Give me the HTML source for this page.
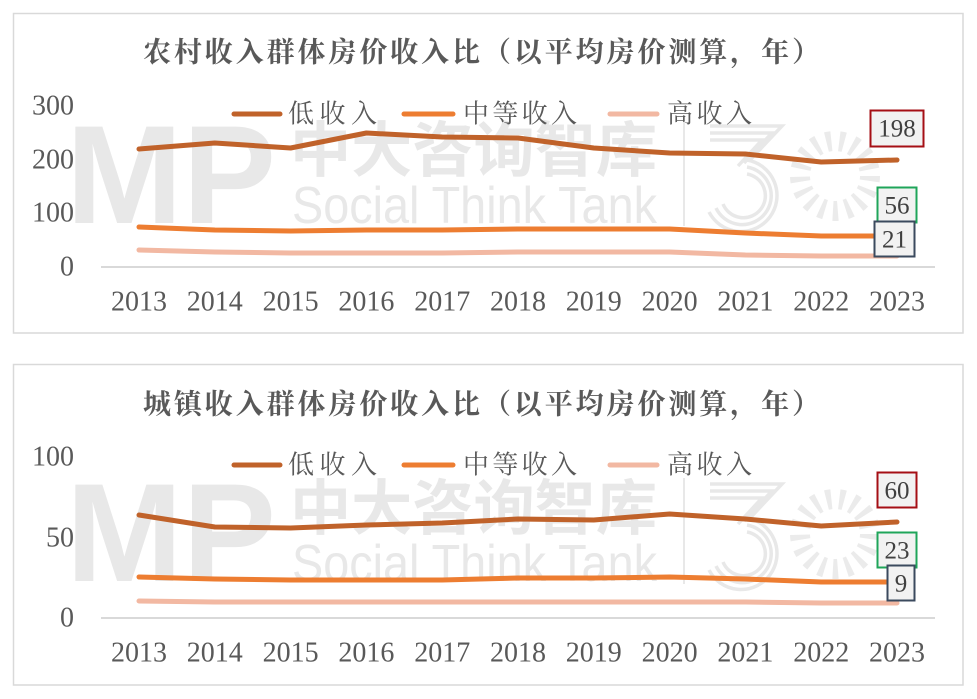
<!DOCTYPE html>
<html><head><meta charset="utf-8"><style>
html,body{margin:0;padding:0;background:#fff;}
svg{display:block;}
.t{font-family:"Liberation Serif","Noto Serif CJK SC",serif;font-weight:700;font-size:28px;fill:#595959;}
.lg{font-family:"Liberation Serif","Noto Serif CJK SC",serif;font-size:26px;fill:#595959;}
.tk{font-family:"Liberation Serif",serif;font-size:28px;fill:#595959;}
.dl{font-family:"Liberation Serif",serif;font-size:25px;fill:#404040;}
.wm{fill:#e8e8e8;}
</style></head><body>
<svg width="977" height="699" viewBox="0 0 977 699" xmlns="http://www.w3.org/2000/svg">
<defs>
<g id="wmk">
  <text x="66" y="223" class="wm" font-family="Liberation Sans,sans-serif" font-weight="700" font-size="140" textLength="210" lengthAdjust="spacingAndGlyphs">MP</text>
  <text x="290" y="151" class="wm" dominant-baseline="central" font-family="Liberation Sans,'Noto Sans CJK SC',sans-serif" font-weight="700" font-size="60" textLength="367" lengthAdjust="spacingAndGlyphs">中大咨询智库</text>
  <text x="292" y="223" class="wm" font-family="Liberation Sans,sans-serif" font-size="52" textLength="365" lengthAdjust="spacingAndGlyphs">Social Think Tank</text>
  <line x1="684" y1="120" x2="684" y2="226" stroke="#e8e8e8" stroke-width="2"/>
  <g fill="none" stroke="#e8e8e8" stroke-width="3.5">
    <path d="M710,126 H782 L750,160"/>
    <path d="M710,133 H772 L744,163"/>
    <path d="M710,140 H762 L738,166"/>
    <path d="M747,160 A36 36 0 1 1 709 212"/>
    <path d="M747,167 A29 29 0 1 1 716 208"/>
    <path d="M747,174 A22 22 0 1 1 723 204"/>
  </g>
  <circle cx="835" cy="176" r="35" fill="none" stroke="#ebebeb" stroke-width="20" stroke-dasharray="5 8"/>
</g>
</defs>

<!-- ===== TOP CHART ===== -->
<rect x="13.5" y="13.5" width="949.5" height="319.5" fill="#fff" stroke="#d9d9d9" stroke-width="1.5"/>
<use href="#wmk"/>
<text class="t" x="143" y="53" dominant-baseline="central" textLength="677" lengthAdjust="spacing">农村收入群体房价收入比（以平均房价测算，年）</text>

<!-- legend -->
<line x1="234" y1="114" x2="280" y2="114" stroke="#C0622A" stroke-width="5" stroke-linecap="round"/>
<text class="lg" x="288" y="114" dominant-baseline="central" textLength="89" lengthAdjust="spacing">低收入</text>
<line x1="404" y1="114" x2="453" y2="114" stroke="#ED7D31" stroke-width="5" stroke-linecap="round"/>
<text class="lg" x="463" y="114" dominant-baseline="central" textLength="114" lengthAdjust="spacing">中等收入</text>
<line x1="610" y1="114" x2="657" y2="114" stroke="#F2B8A2" stroke-width="5" stroke-linecap="round"/>
<text class="lg" x="667" y="114" dominant-baseline="central" textLength="85" lengthAdjust="spacing">高收入</text>

<!-- y ticks -->
<g class="tk" text-anchor="end" dominant-baseline="central">
<text x="74" y="106">300</text>
<text x="74" y="160">200</text>
<text x="74" y="213">100</text>
<text x="74" y="267">0</text>
</g>
<line x1="101" y1="267" x2="935" y2="267" stroke="#d9d9d9" stroke-width="2"/>
<g class="tk" text-anchor="middle" dominant-baseline="central">
<text x="139" y="302">2013</text><text x="214.8" y="302">2014</text><text x="290.6" y="302">2015</text>
<text x="366.4" y="302">2016</text><text x="442.2" y="302">2017</text><text x="518" y="302">2018</text>
<text x="593.8" y="302">2019</text><text x="669.6" y="302">2020</text><text x="745.4" y="302">2021</text>
<text x="821.2" y="302">2022</text><text x="897" y="302">2023</text>
</g>

<g fill="none" stroke-width="5" stroke-linecap="round" stroke-linejoin="round">
<polyline stroke="#F2B8A2" points="139,250 214.8,252 290.6,253 366.4,253 442.2,253 518,252 593.8,252 669.6,252 745.4,255 821.2,256 897,256"/>
<polyline stroke="#ED7D31" points="139,227 214.8,230 290.6,231 366.4,230 442.2,230 518,229 593.8,229 669.6,229 745.4,233 821.2,236 897,236"/>
<polyline stroke="#C0622A" points="139,149 214.8,143 290.6,148 366.4,133 442.2,137 518,138 593.8,148 669.6,153 745.4,154 821.2,162 897,160"/>
</g>

<!-- data labels -->
<rect x="870.5" y="110.5" width="53" height="36" fill="#f2f2f2" stroke="#A50F15" stroke-width="2"/>
<text class="dl" x="897" y="129" text-anchor="middle" dominant-baseline="central">198</text>
<rect x="877.5" y="187.5" width="39" height="35" fill="#f2f2f2" stroke="#1FA55A" stroke-width="2"/>
<text class="dl" x="897" y="206" text-anchor="middle" dominant-baseline="central">56</text>
<rect x="874.5" y="221.5" width="40" height="35" fill="#f2f2f2" stroke="#3B4A5E" stroke-width="2"/>
<text class="dl" x="894.5" y="240" text-anchor="middle" dominant-baseline="central">21</text>

<!-- ===== BOTTOM CHART ===== -->
<rect x="13.5" y="364.5" width="949.5" height="320.5" fill="#fff" stroke="#d9d9d9" stroke-width="1.5"/>
<use href="#wmk" transform="translate(0,358)"/>
<text class="t" x="143" y="405" dominant-baseline="central" textLength="677" lengthAdjust="spacing">城镇收入群体房价收入比（以平均房价测算，年）</text>

<line x1="234" y1="465" x2="280" y2="465" stroke="#C0622A" stroke-width="5" stroke-linecap="round"/>
<text class="lg" x="288" y="465" dominant-baseline="central" textLength="89" lengthAdjust="spacing">低收入</text>
<line x1="404" y1="465" x2="453" y2="465" stroke="#ED7D31" stroke-width="5" stroke-linecap="round"/>
<text class="lg" x="463" y="465" dominant-baseline="central" textLength="114" lengthAdjust="spacing">中等收入</text>
<line x1="610" y1="465" x2="657" y2="465" stroke="#F2B8A2" stroke-width="5" stroke-linecap="round"/>
<text class="lg" x="667" y="465" dominant-baseline="central" textLength="85" lengthAdjust="spacing">高收入</text>

<g class="tk" text-anchor="end" dominant-baseline="central">
<text x="74" y="457">100</text>
<text x="74" y="538">50</text>
<text x="74" y="618">0</text>
</g>
<line x1="101" y1="618" x2="935" y2="618" stroke="#d9d9d9" stroke-width="2"/>
<g class="tk" text-anchor="middle" dominant-baseline="central">
<text x="139" y="653">2013</text><text x="214.8" y="653">2014</text><text x="290.6" y="653">2015</text>
<text x="366.4" y="653">2016</text><text x="442.2" y="653">2017</text><text x="518" y="653">2018</text>
<text x="593.8" y="653">2019</text><text x="669.6" y="653">2020</text><text x="745.4" y="653">2021</text>
<text x="821.2" y="653">2022</text><text x="897" y="653">2023</text>
</g>

<g fill="none" stroke-width="5" stroke-linecap="round" stroke-linejoin="round">
<polyline stroke="#F2B8A2" points="139,601 214.8,602 290.6,602 366.4,602 442.2,602 518,602 593.8,602 669.6,602 745.4,602 821.2,603 897,603"/>
<polyline stroke="#ED7D31" points="139,577 214.8,579 290.6,580 366.4,580 442.2,580 518,578 593.8,578 669.6,577 745.4,579 821.2,582 897,582"/>
<polyline stroke="#C0622A" points="139,515 214.8,527 290.6,528 366.4,525 442.2,523 518,519 593.8,520 669.6,514 745.4,519 821.2,526 897,522"/>
</g>

<rect x="877.5" y="472.5" width="39" height="35" fill="#f2f2f2" stroke="#A50F15" stroke-width="2"/>
<text class="dl" x="897" y="491" text-anchor="middle" dominant-baseline="central">60</text>
<rect x="877.5" y="532.5" width="39" height="35" fill="#f2f2f2" stroke="#1FA55A" stroke-width="2"/>
<text class="dl" x="897" y="551" text-anchor="middle" dominant-baseline="central">23</text>
<rect x="887.5" y="565.5" width="27" height="35" fill="#f2f2f2" stroke="#3B4A5E" stroke-width="2"/>
<text class="dl" x="901" y="584" text-anchor="middle" dominant-baseline="central">9</text>
</svg>
</body></html>
